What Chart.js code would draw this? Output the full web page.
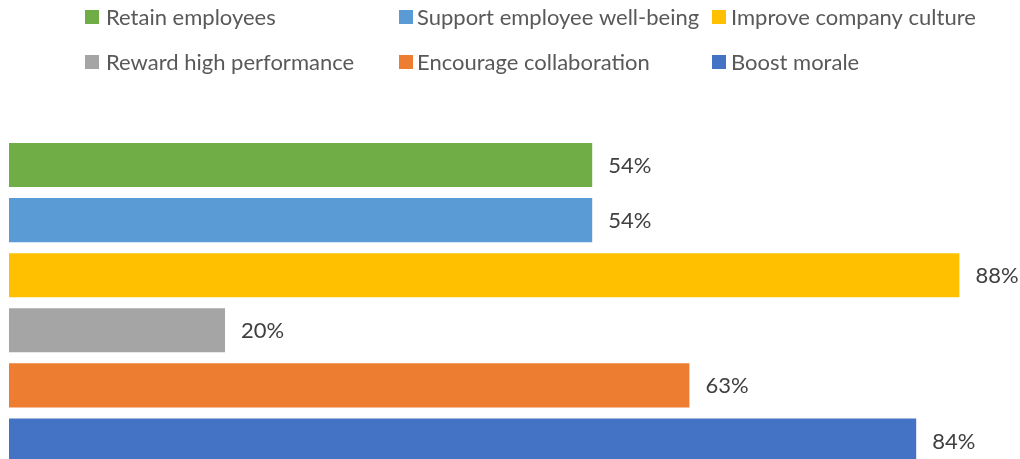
<!DOCTYPE html>
<html>
<head>
<meta charset="utf-8">
<script src="https://cdn.jsdelivr.net/npm/chart.js@4"></script>
<style>
  html, body { margin: 0; padding: 0; background: #fff; overflow: hidden; }
  #wrap { position: relative; width: 1020px; height: 468px; }
</style>
</head>
<body>
<div id="wrap"><canvas id="chart"></canvas></div>
<script>
// chart data
const categories = [
  "Retain employees",
  "Support employee well-being",
  "Improve company culture",
  "Reward high performance",
  "Encourage collaboration",
  "Boost morale"
];
const values = [54, 54, 88, 20, 63, 84];
const colors = ["#70AD47", "#5B9BD5", "#FFC000", "#A5A5A5", "#ED7D31", "#4472C4"];

const FONT = "22px Lato";

// legend laid out in fixed columns, like the original
const legendPlugin = {
  id: "gridLegend",
  afterDraw(chart) {
    const ctx = chart.ctx;
    const boxX = [85, 399, 712];
    const textX = [106, 417, 731];
    const rowY = [17, 62];
    ctx.save();
    ctx.font = FONT;
    ctx.textBaseline = "middle";
    ctx.textAlign = "left";
    categories.forEach((name, i) => {
      const c = i % 3;
      const y = rowY[Math.floor(i / 3)];
      ctx.fillStyle = colors[i];
      ctx.fillRect(boxX[c], y - 7, 14, 14);
      ctx.fillStyle = "#595959";
      ctx.fillText(name, textX[c], y + 1);
    });
    ctx.restore();
  }
};

// value labels at the end of each bar
const labelPlugin = {
  id: "barLabels",
  afterDatasetsDraw(chart) {
    const ctx = chart.ctx;
    const meta = chart.getDatasetMeta(0);
    ctx.save();
    ctx.font = FONT;
    ctx.fillStyle = "#404040";
    ctx.textBaseline = "middle";
    ctx.textAlign = "left";
    meta.data.forEach((bar, i) => {
      ctx.fillText(values[i] + "%", bar.x + 16, bar.y + 1);
    });
    ctx.restore();
  }
};

new Chart(document.getElementById("chart"), {
  type: "bar",
  data: {
    labels: categories,
    datasets: [{
      data: values,
      backgroundColor: colors,
      borderWidth: 0,
      barPercentage: 0.8,
      categoryPercentage: 1
    }]
  },
  options: {
    indexAxis: "y",
    responsive: true,
    maintainAspectRatio: false,
    animation: false,
    layout: { padding: { top: 137.5, left: 9, right: 39, bottom: 0 } },
    scales: {
      x: { display: false, min: 0, max: 90 },
      y: { display: false }
    },
    plugins: {
      legend: { display: false },
      tooltip: { enabled: false }
    }
  },
  plugins: [legendPlugin, labelPlugin]
});
</script>
</body>
</html>
